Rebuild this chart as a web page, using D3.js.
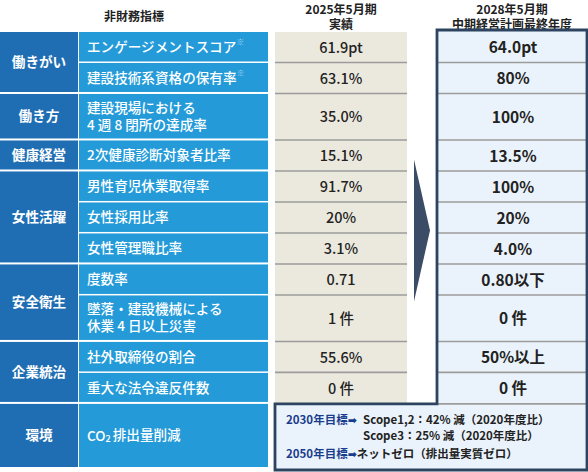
<!DOCTYPE html>
<html><head><meta charset="utf-8">
<script src="https://cdn.jsdelivr.net/npm/d3@7"></script>
<style>
html,body{margin:0;padding:0;background:#fff;}
svg{display:block;font-family:"Noto Sans CJK JP","Noto Sans",sans-serif;}
</style></head>
<body>
<div id="chart"></div>
<script>
// ---- data ----
const headers = ["非財務指標", "2025年5月期\n実績", "2028年5月期\n中期経営計画最終年度"];
const groups = ["働きがい","働きがい","働き方","健康経営","女性活躍","女性活躍","女性活躍","安全衛生","安全衛生","企業統治","企業統治","環境"];
const items = ["エンゲージメントスコア","建設技術系資格の保有率","建設現場における\n4 週 8 閉所の達成率","2次健康診断対象者比率","男性育児休業取得率","女性採用比率","女性管理職比率","度数率","墜落・建設機械による\n休業 4 日以上災害","社外取締役の割合","重大な法令違反件数","CO₂排出量削減"];
const notes = ["※","※","","","","","","","","","",""];
const results = ["61.9pt","63.1%","35.0%","15.1%","91.7%","20%","3.1%","0.71","1 件","55.6%","0 件",""];
const targets = ["64.0pt","80%","100%","13.5%","100%","20%","4.0%","0.80以下","0 件","50%以上","0 件",""];
const envGoals = [
  {label:"2030年目標➡", text:"Scope1,2：42% 減（2020年度比）"},
  {label:"", text:"Scope3：25% 減（2020年度比）"},
  {label:"2050年目標➡", text:"ネットゼロ（排出量実質ゼロ）"}
];

// ---- layout ----
const W = 588, H = 472;
const svg = d3.select("#chart").append("svg").attr("width", W).attr("height", H);

const lineCount = (s) => s.split("\n").length;
const units = items.map((it, i) => {
  if (i === items.length - 1) return 2.1; // env row holds 3 goal lines
  return lineCount(it) === 2 ? 1.5 : 1;
});
const starts = [];
let acc = 0;
units.forEach(u => { starts.push(acc); acc += u; });
const total = acc;
const y = d3.scaleLinear().domain([0, total]).range([32, 469]);

const x = d3.scaleOrdinal().domain(["cat","item","res","tgt"]).range([0, 79, 275, 437]);
const colW = {cat: 78, item: 189, res: 132, tgt: 150};

const C = {cat:"#1f6eb3", item:"#249bd8", res:"#ebe9de", resLine:"#9b9b9b", tgt:"#eaf3fb", border:"#2d4460", arrow:"#3b4d66", txt:"#222", goal:"#1a3c8c"};

// Header texts
const hx = [134, 341, 512];
headers.forEach((h, i) => {
  const lines = h.split("\n");
  const t = svg.append("text").attr("text-anchor","middle").attr("font-size", 12).attr("font-weight", 700).attr("fill", "#222");
  lines.forEach((l, j) => {
    t.append("tspan").attr("x", hx[i]).attr("y", (lines.length === 1 ? 21 : 13.5 + j * 15.5)).text(l);
  });
});

// group extents
const groupSpans = [];
groups.forEach((g, i) => {
  const last = groupSpans[groupSpans.length - 1];
  if (last && last.name === g) last.end = i;
  else groupSpans.push({name: g, start: i, end: i});
});

// category cells
svg.selectAll("rect.cat").data(groupSpans).join("rect").attr("class","cat")
  .attr("x", x("cat")).attr("width", colW.cat)
  .attr("y", d => y(starts[d.start]))
  .attr("height", d => y(starts[d.end] + units[d.end]) - y(starts[d.start]) - 2)
  .attr("fill", C.cat);
svg.selectAll("text.cat").data(groupSpans).join("text").attr("class","cat")
  .attr("x", x("cat") + colW.cat / 2)
  .attr("y", d => (y(starts[d.start]) + y(starts[d.end] + units[d.end]) - 2) / 2)
  .attr("dy", "0.36em").attr("text-anchor","middle").attr("font-size", 13.6).attr("font-weight", 700)
  .attr("fill", "#fff").text(d => d.name);

// item cells
const isGroupEnd = (i) => i === items.length - 1 || groups[i] !== groups[i + 1];
svg.selectAll("rect.item").data(items).join("rect").attr("class","item")
  .attr("x", x("item")).attr("width", colW.item)
  .attr("y", (d, i) => y(starts[i]))
  .attr("height", (d, i) => y(starts[i] + units[i]) - y(starts[i]) - (isGroupEnd(i) ? 2 : 1.5))
  .attr("fill", C.item);
items.forEach((it, i) => {
  const lines = it.split("\n");
  const cy = (y(starts[i]) + y(starts[i] + units[i]) - 1.5) / 2;
  lines.forEach((l, j) => {
    const ty = cy + (j - (lines.length - 1) / 2) * 17;
    const t = svg.append("text").attr("x", 87).attr("y", ty).attr("dy","0.36em")
      .attr("font-size", 13.6).attr("font-weight", 500).attr("fill", "#fff");
    if (l.includes("₂")) {
      const parts = l.split("₂");
      t.append("tspan").text(parts[0]);
      t.append("tspan").attr("font-size", 9).attr("dy","0.1em").text("2");
      t.append("tspan").attr("dy","-0.1em").attr("dx", 2).text(parts[1]);
    } else {
      t.append("tspan").text(l);
    }
    if (notes[i] && j === lines.length - 1) t.append("tspan").attr("font-size", 8).attr("fill", "#a8d8f4").attr("dy", "-0.8em").text(notes[i]);
  });
});

// results column
const nVals = items.length - 1;
const valEnd = y(starts[nVals - 1] + units[nVals - 1]);
svg.append("rect").attr("x", x("res")).attr("y", y(0)).attr("width", colW.res).attr("height", valEnd - y(0)).attr("fill", C.res);
svg.selectAll("line.res").data(d3.range(nVals - 1)).join("line").attr("class","res")
  .attr("x1", x("res")).attr("x2", x("res") + colW.res)
  .attr("y1", i => y(starts[i] + units[i]) - 0.5).attr("y2", i => y(starts[i] + units[i]) - 0.5)
  .attr("stroke", C.resLine).attr("stroke-width", 1.6);
svg.selectAll("text.res").data(results.slice(0, nVals)).join("text").attr("class","res")
  .attr("x", x("res") + colW.res / 2)
  .attr("y", (d, i) => (y(starts[i]) + y(starts[i] + units[i])) / 2)
  .attr("dy", "0.36em").attr("text-anchor","middle").attr("font-size", 14.5).attr("font-weight", 500)
  .attr("fill", C.txt).text(d => d);

// target column + env box
const envTop = valEnd;
const boxBottom = y(total) + 1;
const outline = `M${x("tgt")},30 H${x("tgt") + colW.tgt} V${boxBottom} H${x("res")} V${envTop} H${x("tgt")} Z`;
svg.append("path").attr("d", outline).attr("fill", C.tgt);
svg.selectAll("line.tgt").data(d3.range(nVals - 1)).join("line").attr("class","tgt")
  .attr("x1", x("tgt")).attr("x2", x("tgt") + colW.tgt)
  .attr("y1", i => y(starts[i] + units[i]) - 0.5).attr("y2", i => y(starts[i] + units[i]) - 0.5)
  .attr("stroke", C.resLine).attr("stroke-width", 1.6);
svg.append("line").attr("x1", x("tgt")).attr("x2", x("tgt") + colW.tgt).attr("y1", envTop).attr("y2", envTop)
  .attr("stroke", C.resLine).attr("stroke-width", 1.6);
svg.append("path").attr("d", outline)
  .attr("fill", "none").attr("stroke", C.border).attr("stroke-width", 2.8);
svg.selectAll("text.tgt").data(targets.slice(0, nVals)).join("text").attr("class","tgt")
  .attr("x", x("tgt") + colW.tgt / 2 + 1)
  .attr("y", (d, i) => (y(starts[i]) + y(starts[i] + units[i])) / 2)
  .attr("dy", "0.36em").attr("text-anchor","middle").attr("font-size", 15.5).attr("font-weight", 700)
  .attr("fill", C.txt).text(d => d);

// env goals
const goalY = [420, 436, 454];
envGoals.forEach((g, i) => {
  const t = svg.append("text").attr("y", goalY[i]).attr("dy", "0.36em").attr("font-size", 11.5).attr("font-weight", 700);
  if (g.label) {
    t.append("tspan").attr("x", 286).attr("fill", C.goal).text(g.label.replace("➡", ""));
    t.append("tspan").attr("fill", C.goal).attr("font-family", "DejaVu Sans").attr("font-size", 11).text("➡");
  }
  t.append("tspan").attr("x", i === 2 ? null : 363).attr("fill", C.txt).attr("font-weight", 600).text(g.text);
});

// arrow
const ay0 = y(starts[4]) - 12, ay1 = y(starts[8]) + 6;
svg.append("path")
  .attr("d", `M414,${ay0} L430,${(ay0 + ay1) / 2} L414,${ay1} Z`)
  .attr("fill", C.arrow);
</script>
</body></html>
